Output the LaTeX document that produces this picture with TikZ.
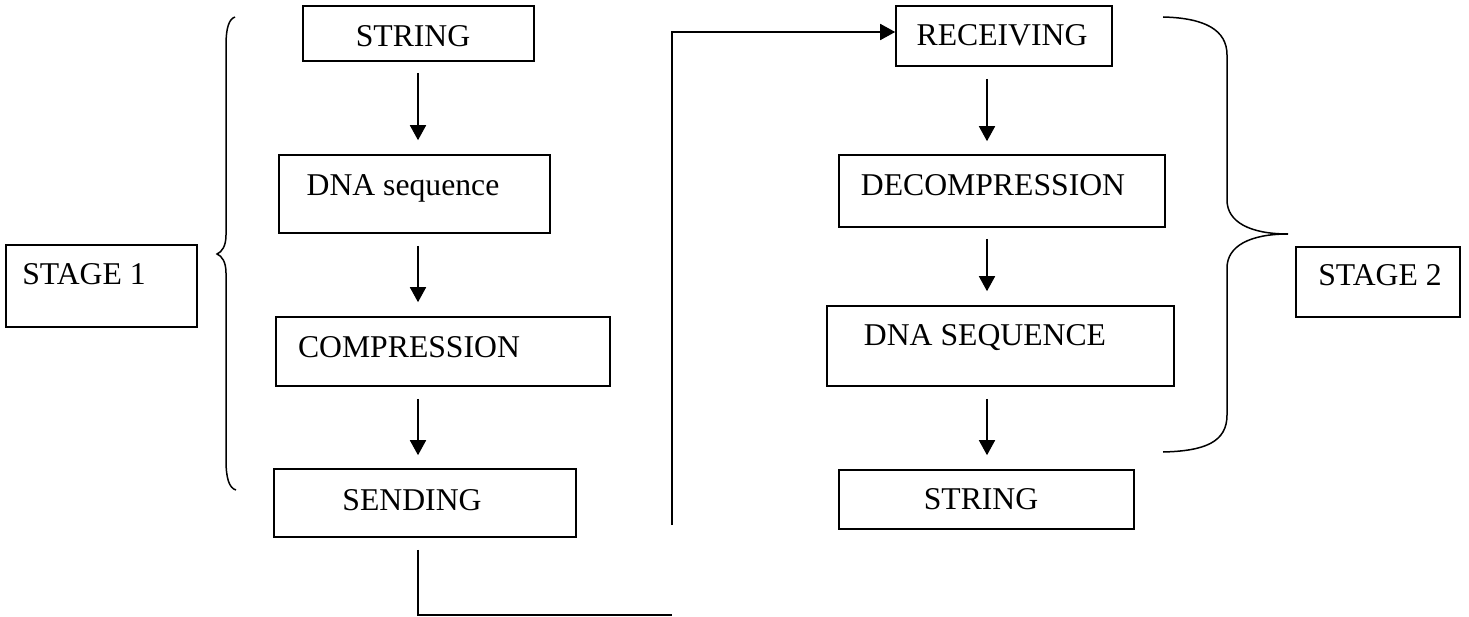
\documentclass[tikz,border=0pt]{standalone}
\usepackage{fontspec}
\setmainfont{Liberation Serif}
\usetikzlibrary{arrows.meta}
\begin{document}
\begin{tikzpicture}[x=1pt,y=-1pt,
  box/.style={draw, line width=1.6pt, inner sep=0pt, rectangle},
  lbl/.style={anchor=base, inner sep=0pt, font=\fontsize{31.7}{38}\selectfont},
  arr/.style={line width=1.7pt, -{Triangle[width=16pt,length=15pt]}},
  conn/.style={line width=1.7pt},
  bracestyle/.style={line width=1.5pt}]
\useasboundingbox (0,0) rectangle (1469,617);
% left column
\node[box, minimum width=231pt, minimum height=55pt] (s1) at (418.5,33.5) {};
\node[lbl] (s1t) at (413,46.5) {STRING};
\node[box, minimum width=271pt, minimum height=78pt] (dna) at (414.5,194) {};
\node[lbl] (dnat) at (403,195.5) {DNA sequence};
\node[box, minimum width=334pt, minimum height=69pt] (comp) at (443,351.5) {};
\node[lbl] (compt) at (409,357.5) {COMPRESSION};
\node[box, minimum width=302pt, minimum height=68pt] (send) at (425,503) {};
\node[lbl] (sendt) at (412,510.5) {SENDING};
\node[box, minimum width=191pt, minimum height=82pt] (st1) at (101.5,286) {};
\node[lbl] (st1t) at (84,284.5) {STAGE 1};
% right column
\node[box, minimum width=216pt, minimum height=60pt] (recv) at (1004,36) {};
\node[lbl] (recvt) at (1002,45.5) {RECEIVING};
\node[box, minimum width=326pt, minimum height=72pt] (decomp) at (1002,191) {};
\node[lbl] (decompt) at (993,195.5) {DECOMPRESSION};
\node[box, minimum width=347pt, minimum height=80pt] (dnaS) at (1000.5,346) {};
\node[lbl] (dnaSt) at (985,345.5) {DNA SEQUENCE};
\node[box, minimum width=295pt, minimum height=59pt] (s2) at (986.5,499.5) {};
\node[lbl] (s2t) at (981,509.5) {STRING};
\node[box, minimum width=164pt, minimum height=70pt] (st2) at (1378,282) {};
\node[lbl] (st2t) at (1380,285.5) {STAGE 2};
% arrows
\coordinate (lx) at (418,0);
\coordinate (rx) at (987,0);
\draw[arr, shorten <=11pt, shorten >=14pt] (s1.south -| lx) -- (dna.north -| lx);
\draw[arr, shorten <=12pt, shorten >=14pt] (dna.south -| lx) -- (comp.north -| lx);
\draw[arr, shorten <=12pt, shorten >=13pt] (comp.south -| lx) -- (send.north -| lx);
\draw[arr, shorten <=12pt, shorten >=13pt] (recv.south -| rx) -- (decomp.north -| rx);
\draw[arr, shorten <=11pt, shorten >=14pt] (decomp.south -| rx) -- (dnaS.north -| rx);
\draw[arr, shorten <=12pt, shorten >=14pt] (dnaS.south -| rx) -- (s2.north -| rx);
% transfer connector
\coordinate (c1) at (672,615);
\coordinate (c2) at (672,525);
\draw[conn, shorten <=12pt] (send.south -| lx) |- (c1);
\draw[arr] (c2) |- ([yshift=4pt]recv.west);
% braces
\draw[bracestyle] (235,17) .. controls (229,19) and (226,28) .. (226,45) -- (226,235)
  .. controls (226,246) and (222,252) .. (217,254)
  .. controls (222,256) and (226,262) .. (226,273) -- (226,460)
  .. controls (226,478) and (229,488) .. (236,490);
\draw[bracestyle] (1163,17) .. controls (1205,18) and (1227,30) .. (1227,55) -- (1227,200)
  .. controls (1227,222) and (1250,234) .. (1288,234)
  .. controls (1250,234) and (1227,246) .. (1227,268) -- (1227,415)
  .. controls (1227,442) and (1205,451) .. (1163,452);
\end{tikzpicture}
\end{document}
